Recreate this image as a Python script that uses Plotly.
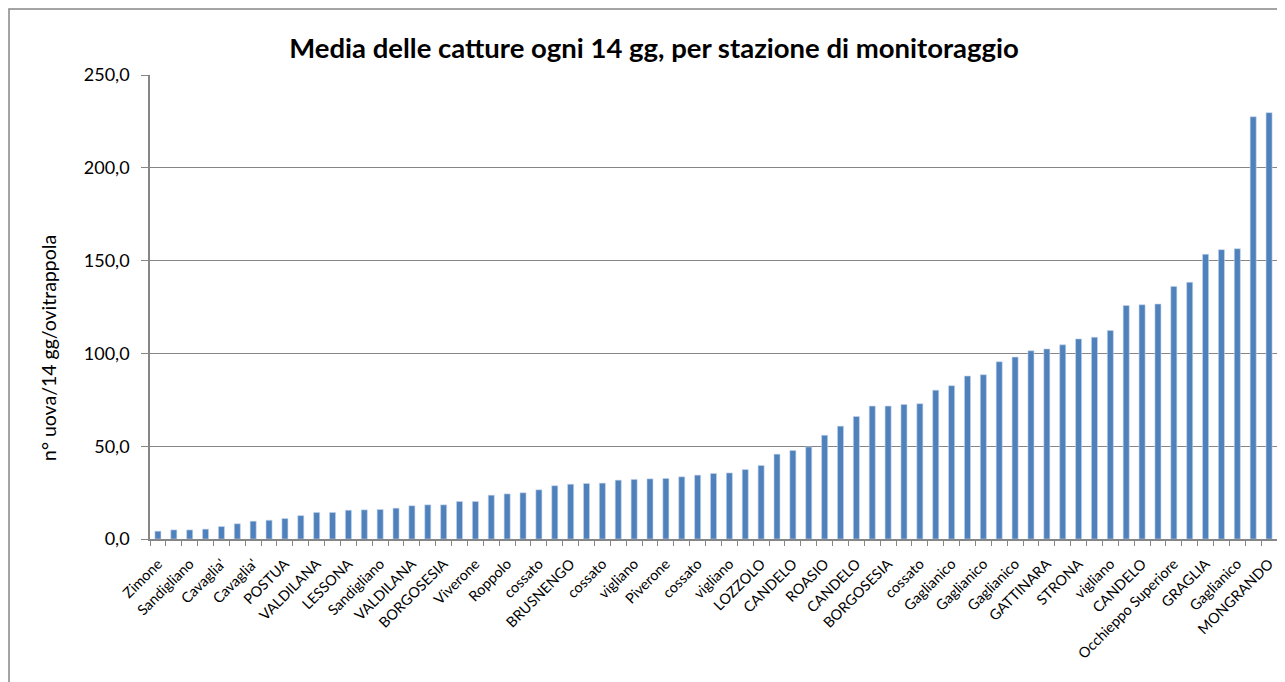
import plotly.graph_objects as go

title_text = "Media delle catture ogni 14 gg, per stazione di monitoraggio"
y_title = "n° uova/14 gg/ovitrappola"

values = [4.2, 4.9, 4.9, 5.3, 6.7, 8.2, 9.6, 10.1, 11.0, 12.6, 14.3, 14.3, 15.5, 15.7, 15.9, 16.6, 17.9, 18.4,
          18.4, 20.2, 20.2, 23.6, 24.3, 24.9, 26.5, 28.7, 29.5, 29.9, 30.1, 31.7, 32.1, 32.4, 32.6, 33.5, 34.4, 35.3,
          35.6, 37.4, 39.6, 45.7, 47.7, 49.6, 55.9, 60.8, 66.0, 71.6, 71.6, 72.5, 72.9, 80.2, 82.6, 87.8, 88.5, 95.5,
          98.0, 101.4, 102.4, 104.6, 107.8, 108.7, 112.3, 125.8, 126.2, 126.6, 136.1, 138.3, 153.4, 155.9, 156.4,
          227.5, 229.7]

tick_labels = ["Zimone", "Sandigliano", "Cavaglia'", "Cavaglia'", "POSTUA", "VALDILANA", "LESSONA", "Sandigliano",
               "VALDILANA", "BORGOSESIA", "Viverone", "Roppolo", "cossato", "BRUSNENGO", "cossato", "vigliano",
               "Piverone", "cossato", "vigliano", "LOZZOLO", "CANDELO", "ROASIO", "CANDELO", "BORGOSESIA", "cossato",
               "Gaglianico", "Gaglianico", "Gaglianico", "GATTINARA", "STRONA", "vigliano", "CANDELO",
               "Occhieppo Superiore", "GRAGLIA", "Gaglianico", "MONGRANDO"]

y_tickvals = [0, 50, 100, 150, 200, 250]
y_ticktext = ["0,0", "50,0", "100,0", "150,0", "200,0", "250,0"]

n = len(values)
xs = list(range(n))
label_pos = list(range(0, n, 2))
boundaries = [i - 0.5 for i in range(n + 1)]

GRAY = "#868686"
FONT = "Lato"

fig = go.Figure()
fig.add_trace(go.Bar(
    x=xs, y=values,
    marker=dict(color="#4F81BD", line=dict(color="#C6D5EA", width=0.6)),
    hoverinfo="y",
))

# page body has an 8px margin, so the figure is drawn 8px in from the window edge
W, H = 1277, 674
L, R, T, B = 142, 8, 67, 143
pw, ph = W - L - R, H - T - B

def px_x(p):
    return (p - L) / pw

def px_y(p):
    return (H - B - p) / ph

fig.update_layout(
    width=W, height=H,
    margin=dict(l=L, r=R, t=T, b=B, pad=0),
    paper_bgcolor="white", plot_bgcolor="white",
    bargap=0.62,
    showlegend=False,
    font=dict(family=FONT, color="black"),
    title=dict(text="<b>" + title_text + "</b>", font=dict(family=FONT, size=27.5, color="black"),
               xref="container", x=646 / W, xanchor="center",
               yref="container", y=1 - 40 / H, yanchor="middle"),
    xaxis=dict(
        range=[-0.5, n - 0.5],
        tickmode="array", tickvals=label_pos, ticktext=tick_labels,
        tickangle=-45, tickfont=dict(family=FONT, size=14.5, color="black"),
        ticks="", ticklabelstandoff=9, showgrid=False, zeroline=False,
        showline=True, linecolor=GRAY, linewidth=1.5,
        minor=dict(tickmode="array", tickvals=boundaries, ticks="outside", ticklen=5,
                   tickcolor=GRAY, tickwidth=1, showgrid=False),
        fixedrange=True,
    ),
    yaxis=dict(
        range=[0, 250],
        tickmode="array", tickvals=y_tickvals, ticktext=y_ticktext,
        tickfont=dict(family=FONT, size=18, color="black"),
        ticks="outside", ticklen=7, tickcolor=GRAY, tickwidth=1,
        ticklabelstandoff=8,
        showgrid=True, gridcolor=GRAY, gridwidth=1,
        zeroline=False,
        showline=True, linecolor=GRAY, linewidth=1.5,
        fixedrange=True,
    ),
    annotations=[dict(text=y_title, xref="paper", yref="paper",
                      x=px_x(40), y=px_y(340), xanchor="center", yanchor="middle",
                      textangle=-90, showarrow=False,
                      font=dict(family=FONT, size=19.5, color="black"))],
    shapes=[dict(type="rect", xref="paper", yref="paper",
                 x0=px_x(1), x1=px_x(W + 10), y0=px_y(H + 10), y1=px_y(1),
                 line=dict(color=GRAY, width=1.5), fillcolor="rgba(0,0,0,0)", layer="above")],
)

fig.write_html("out.html")
